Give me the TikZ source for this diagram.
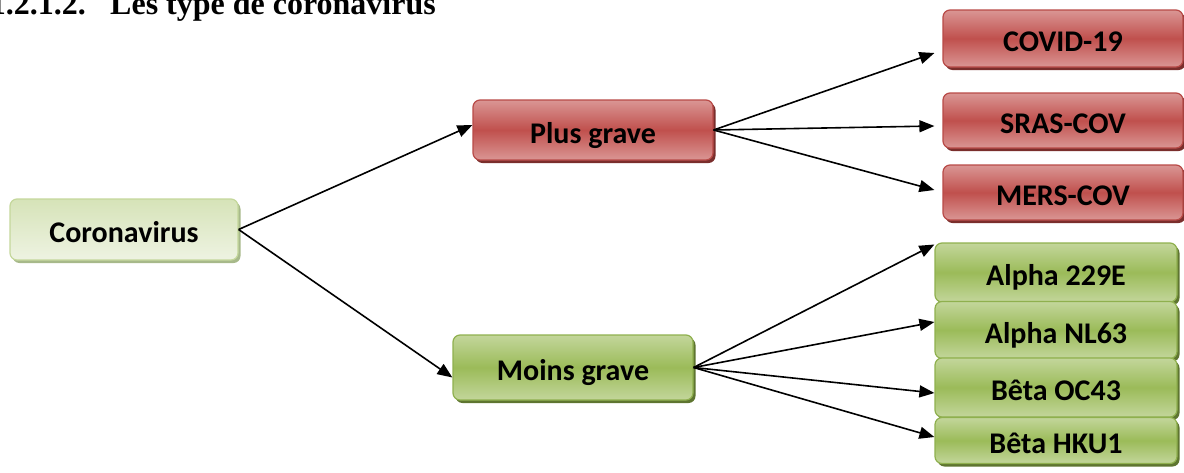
\documentclass[tikz,border=0pt]{standalone}
\usepackage{fontspec}
\setmainfont{Carlito}
\newfontfamily\titlefont{Liberation Serif}
\usetikzlibrary{arrows.meta,calc,shadows}
\definecolor{redmid}{HTML}{C0504D}
\definecolor{redlight}{HTML}{DA9694}
\definecolor{redborder}{HTML}{B84A47}
\definecolor{redshadow}{HTML}{7A2E2C}
\definecolor{grnmid}{HTML}{9BBB59}
\definecolor{grnlight}{HTML}{C3D69B}
\definecolor{grnborder}{HTML}{8FB04E}
\definecolor{grnshadow}{HTML}{5E7530}
\definecolor{palegrn}{HTML}{D6E3B8}
\definecolor{palegrn2}{HTML}{EEF3E2}
\definecolor{paleborder}{HTML}{C4D79B}
\definecolor{paleshadow}{HTML}{A7B98A}
\tikzset{
  box/.style={rectangle, rounded corners=7pt, line width=1.2pt, inner sep=0pt,
    text height=26pt, text depth=0pt,
    font=\fontsize{30}{36}\selectfont\bfseries, text=black},
  redbox/.style={box, draw=redborder, top color=redlight, bottom color=redlight, middle color=redmid,
    drop shadow={shadow xshift=2.5pt, shadow yshift=-3pt, fill=redshadow, opacity=1}},
  grnbox/.style={box, draw=grnborder, top color=grnlight, bottom color=grnlight, middle color=grnmid,
    drop shadow={shadow xshift=2.5pt, shadow yshift=-3pt, fill=grnshadow, opacity=1}},
  palebox/.style={box, draw=paleborder, top color=palegrn, bottom color=palegrn2,
    drop shadow={shadow xshift=2.5pt, shadow yshift=-3pt, fill=paleshadow, opacity=1}},
  arr/.style={line width=1.6pt, -{Triangle[length=15pt,width=12pt]}}
}
\begin{document}
\begin{tikzpicture}[x=1pt,y=-1pt]
\useasboundingbox (0,0) rectangle (1184,472);
\clip (0,0) rectangle (1184,472);
% title
\node[anchor=base east, inner sep=0pt, font=\titlefont\fontsize{32}{36}\selectfont\bfseries] (num) at (86,14) {1.2.1.2.};
\node[anchor=base west, inner sep=0pt, font=\titlefont\fontsize{32}{36}\selectfont\bfseries] (title) at (110,14) {Les type de coronavirus};
% nodes
\node[palebox, minimum width=228pt, minimum height=61pt] (coro) at (124,229.5) {Coronavirus};
\node[redbox, minimum width=240pt, minimum height=60pt] (plus) at (593,130) {Plus grave};
\node[grnbox, minimum width=240pt, minimum height=65pt] (moins) at (573,367.5) {Moins grave};
\node[redbox, minimum width=240pt, minimum height=57pt] (covid) at (1063,38.5) {COVID-19};
\node[redbox, minimum width=240pt, minimum height=55pt] (sras) at (1063,120.5) {SRAS-COV};
\node[redbox, minimum width=240pt, minimum height=55pt] (mers) at (1063,192.5) {MERS-COV};
\node[grnbox, minimum width=242pt, minimum height=59pt] (a229) at (1056,272.5) {Alpha 229E};
\node[grnbox, minimum width=242pt, minimum height=57pt] (nl63) at (1056,330) {Alpha NL63};
\node[grnbox, minimum width=242pt, minimum height=59pt] (oc43) at (1056,387.5) {Bêta OC43};
\node[grnbox, minimum width=242pt, minimum height=46pt] (hku1) at (1056,440.5) {Bêta HKU1};
% connectors
\draw[arr] (coro.east) -- ($(plus.west)+(0,-5)$);
\draw[arr] (coro.east) -- ($(moins.west)+(0,10)$);
\draw[arr] (plus.east) -- ($(covid.west)+(-8,14.5)$);
\draw[arr] (plus.east) -- ($(sras.west)+(-8,5.5)$);
\draw[arr] (plus.east) -- ($(mers.west)+(-8,-2.5)$);
\draw[arr] (moins.east) -- ($(a229.west)+(0,-28)$);
\draw[arr] (moins.east) -- ($(nl63.west)+(0,-8)$);
\draw[arr] (moins.east) -- ($(oc43.west)+(0,5.5)$);
\draw[arr] (moins.east) -- ($(hku1.west)+(0,-3.5)$);
\end{tikzpicture}
\end{document}
